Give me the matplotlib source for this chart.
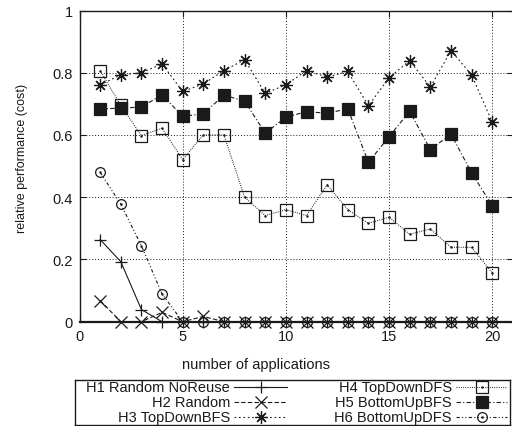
import matplotlib
matplotlib.use("Agg")
import matplotlib.pyplot as plt

# data
apps = list(range(1, 21))
h1 = [0.264, 0.193, 0.039, 0, 0, 0, 0, 0, 0, 0, 0, 0, 0, 0, 0, 0, 0, 0, 0, 0]
h2 = [0.068, 0, 0, 0.03, 0, 0.017, 0, 0, 0, 0, 0, 0, 0, 0, 0, 0, 0, 0, 0, 0]
h3 = [0.761, 0.793, 0.800, 0.828, 0.740, 0.764, 0.807, 0.842, 0.734, 0.761,
      0.807, 0.786, 0.804, 0.694, 0.784, 0.839, 0.754, 0.871, 0.793, 0.641]
h4 = [0.807, 0.695, 0.598, 0.622, 0.521, 0.600, 0.600, 0.400, 0.341, 0.360,
      0.341, 0.440, 0.360, 0.316, 0.336, 0.281, 0.298, 0.239, 0.239, 0.157]
h5 = [0.684, 0.686, 0.690, 0.729, 0.660, 0.668, 0.728, 0.709, 0.606, 0.657,
      0.675, 0.670, 0.684, 0.512, 0.595, 0.676, 0.553, 0.603, 0.478, 0.373]
h6 = [0.480, 0.378, 0.244, 0.089, 0, 0, 0, 0, 0, 0, 0, 0, 0, 0, 0, 0, 0, 0, 0, 0]

labels = ["H1 Random NoReuse", "H2 Random", "H3 TopDownBFS",
          "H4 TopDownDFS", "H5 BottomUpBFS", "H6 BottomUpDFS"]
yticks = [0, 0.2, 0.4, 0.6, 0.8, 1]
yticklabels = ["0", "0.2", "0.4", "0.6", "0.8", "1"]
xticks = [0, 5, 10, 15, 20]

plt.rcParams['font.family'] = ['Liberation Sans', 'DejaVu Sans']
ink = '#1a1a1a'
lw = 0.8

styles = [
    dict(ls='-', marker='+', ms=8, mfc='none'),
    dict(ls=(0, (4, 2)), marker='x', ms=8, mfc='none'),
    dict(ls=(0, (1.5, 2.5)), marker=(8, 2, 0), ms=9, mfc='none'),
    dict(ls=(0, (0.8, 1.2)), marker='s', ms=8.5, mfc='none'),
    dict(ls=(0, (4, 2, 1, 2)), marker='s', ms=8, mfc=ink),
    dict(ls=(0, (3, 2, 1, 2, 1, 2)), marker='o', ms=7, mfc='none'),
]
series = [h1, h2, h3, h4, h5, h6]

fig = plt.figure(figsize=(5.12, 4.27), dpi=100)
W, H = 512.0, 427.0
ax = fig.add_axes([79.5 / W, (H - 322.7) / H, 433.4 / W, 311.2 / H])

for ys, st in zip(series, styles):
    ax.plot(apps, ys, color=ink, lw=lw, mec=ink, mew=0.9, clip_on=False, **st)
# little centre dots of the open gnuplot points
for ys in (h4, h6):
    ax.plot(apps, ys, ls='none', marker='.', ms=1.5, color=ink, clip_on=False)

ax.set_xlim(0, 21)
ax.set_ylim(0, 1)
ax.set_xticks(xticks)
ax.set_yticks(yticks)
ax.set_yticklabels(yticklabels)
ax.tick_params(direction='in', length=4, width=0.8, top=True, right=True,
               labelsize=10.5, pad=5, colors=ink)
ax.grid(True, color=ink, ls=(0, (1, 2)), lw=0.7)
for s in ax.spines.values():
    s.set_linewidth(1.0)
    s.set_color(ink)
ax.spines['bottom'].set_linewidth(1.6)
ax.spines['right'].set_visible(False)

ax.set_xlabel("number of applications", fontsize=10.5, color=ink)
ax.xaxis.set_label_coords((256 - 79.5) / 433.4, -(358 - 322.7) / 311.2)
ax.set_ylabel("relative performance (cost)", fontsize=9, color=ink)
ax.yaxis.set_label_coords(-(79.5 - 28) / 433.4, (322.7 - 158) / 311.2)

# legend box, built in pixel coordinates
lg = fig.add_axes([75 / W, (H - 426) / H, 435 / W, 45 / H])
lg.set_xlim(75, 510)
lg.set_ylim(426, 381)
lg.set_xticks([])
lg.set_yticks([])
for s in lg.spines.values():
    s.set_linewidth(1.0)
    s.set_color(ink)

rows = [388, 403, 418]
cols = [(230, 234, 287), (452, 456, 507)]
for i, (lab, st) in enumerate(zip(labels, styles)):
    tx, x0, x1 = cols[i // 3]
    y = rows[i % 3]
    lg.text(tx, y, lab, ha='right', va='center', fontsize=10.5, color=ink)
    lg.plot([x0, x1], [y, y], color=ink, lw=lw, ls=st['ls'])
    lg.plot([(x0 + x1) / 2], [y], ls='none', marker=st['marker'], ms=st['ms'],
            mfc=st['mfc'], mec=ink, mew=0.9)
    if i in (3, 5):
        lg.plot([(x0 + x1) / 2], [y], ls='none', marker='.', ms=1.5, color=ink)

fig.savefig("out.png", dpi=100)
